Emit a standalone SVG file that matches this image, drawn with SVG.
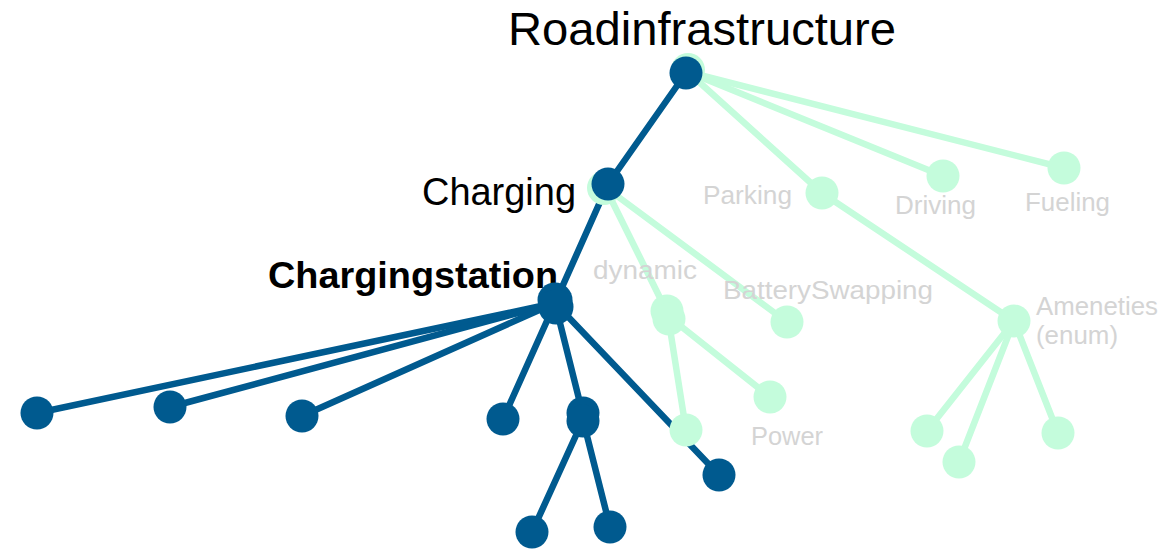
<svg xmlns="http://www.w3.org/2000/svg" width="1165" height="550" viewBox="0 0 1165 550">
<style>
.b{fill:#005A8F}
.g{fill:#C4FCDC}
.eb{stroke:#005A8F;stroke-width:6.5;fill:none;stroke-linecap:round}
.eg{stroke:#C4FCDC;stroke-width:6.5;fill:none;stroke-linecap:round}
.t{font-family:"Liberation Sans",Arial,sans-serif;fill:#000}
.l{font-family:"Liberation Sans",Arial,sans-serif;fill:#D4D4D4;font-size:25px}
</style>
<rect width="1165" height="550" fill="#fff"/>
<g id="titles">
<text class="t" x="508" y="45" font-size="47" textLength="388" lengthAdjust="spacingAndGlyphs">Roadinfrastructure</text>
<text class="t" x="422" y="205" font-size="38" textLength="154" lengthAdjust="spacingAndGlyphs">Charging</text>
<text class="t" x="268" y="288" font-size="37" font-weight="bold" textLength="290" lengthAdjust="spacingAndGlyphs">Chargingstation</text>
</g>
<g id="connectors">
<line class="eg" x1="688" y1="72" x2="822" y2="193"/>
<line class="eg" x1="688" y1="72" x2="943" y2="176"/>
<line class="eg" x1="688" y1="72" x2="1064" y2="168"/>
<line class="eg" x1="822" y1="193" x2="1014" y2="321"/>
<line class="eg" x1="1014" y1="321" x2="927" y2="431"/>
<line class="eg" x1="1014" y1="321" x2="959" y2="462"/>
<line class="eg" x1="1014" y1="321" x2="1058" y2="433"/>
<line class="eg" x1="605" y1="187" x2="667" y2="312"/>
<line class="eg" x1="605" y1="187" x2="787" y2="322"/>
<line class="eg" x1="668" y1="316" x2="686" y2="430"/>
<line class="eg" x1="668" y1="316" x2="770" y2="397"/>
<line class="eb" x1="686" y1="73" x2="608" y2="184"/>
<line class="eb" x1="608" y1="184" x2="555" y2="303"/>
<line class="eb" x1="555" y1="303" x2="37" y2="413"/>
<line class="eb" x1="555" y1="303" x2="170" y2="407"/>
<line class="eb" x1="555" y1="303" x2="302" y2="416"/>
<line class="eb" x1="555" y1="303" x2="503" y2="419"/>
<line class="eb" x1="555" y1="303" x2="583" y2="415"/>
<line class="eb" x1="555" y1="303" x2="719" y2="475"/>
<line class="eb" x1="583" y1="420" x2="532" y2="532"/>
<line class="eb" x1="583" y1="420" x2="610" y2="527"/>
</g>
<g id="n-parking"><circle class="g" cx="822" cy="193" r="16.5"/></g>
<g id="n-driving"><circle class="g" cx="943" cy="176" r="16.5"/></g>
<g id="n-fueling"><circle class="g" cx="1064" cy="168" r="16.5"/></g>
<g id="n-ameneties"><circle class="g" cx="1014" cy="321" r="16.5"/></g>
<g id="n-amenity-1"><circle class="g" cx="927" cy="431" r="16.5"/></g>
<g id="n-amenity-2"><circle class="g" cx="959" cy="462" r="16.5"/></g>
<g id="n-amenity-3"><circle class="g" cx="1058" cy="433" r="16.5"/></g>
<g id="n-dynamic"><circle class="g" cx="667" cy="311" r="16.5"/><circle class="g" cx="669" cy="319" r="16.5"/></g>
<g id="n-batteryswapping"><circle class="g" cx="787" cy="322" r="16.5"/></g>
<g id="n-dynamic-1"><circle class="g" cx="686" cy="430" r="16.5"/></g>
<g id="n-power"><circle class="g" cx="770" cy="397" r="16.5"/></g>
<g id="n-root"><circle class="g" cx="688" cy="70" r="17"/><circle class="b" cx="686" cy="73" r="16.5"/></g>
<g id="n-charging"><circle class="g" cx="604" cy="188" r="17"/><circle class="b" cx="608" cy="184" r="16.5"/></g>
<g id="n-chargingstation"><circle class="b" cx="555" cy="300" r="17.5"/><circle class="b" cx="556" cy="307" r="17.5"/></g>
<g id="n-cs-1"><circle class="b" cx="37" cy="413" r="16.5"/></g>
<g id="n-cs-2"><circle class="b" cx="170" cy="407" r="16.5"/></g>
<g id="n-cs-3"><circle class="b" cx="302" cy="416" r="16.5"/></g>
<g id="n-cs-4"><circle class="b" cx="503" cy="419" r="16.5"/></g>
<g id="n-cs-5"><circle class="b" cx="583" cy="413" r="16.5"/><circle class="b" cx="583" cy="421" r="16.5"/></g>
<g id="n-cs-6"><circle class="b" cx="719" cy="475" r="16.5"/></g>
<g id="n-cs-5-1"><circle class="b" cx="532" cy="532" r="16.5"/></g>
<g id="n-cs-5-2"><circle class="b" cx="610" cy="527" r="16.5"/></g>
<g id="labels">
<text class="l" x="703" y="204" textLength="89" lengthAdjust="spacingAndGlyphs">Parking</text>
<text class="l" x="895" y="214" textLength="81" lengthAdjust="spacingAndGlyphs">Driving</text>
<text class="l" x="1025" y="211" textLength="85" lengthAdjust="spacingAndGlyphs">Fueling</text>
<text class="l" x="593" y="279" textLength="104" lengthAdjust="spacingAndGlyphs">dynamic</text>
<text class="l" x="723" y="299" textLength="210" lengthAdjust="spacingAndGlyphs">BatterySwapping</text>
<text class="l" x="1036" y="315" textLength="122" lengthAdjust="spacingAndGlyphs">Ameneties</text>
<text class="l" x="1036" y="344" textLength="82" lengthAdjust="spacingAndGlyphs">(enum)</text>
<text class="l" x="751" y="445" textLength="72" lengthAdjust="spacingAndGlyphs">Power</text>
</g>
</svg>
